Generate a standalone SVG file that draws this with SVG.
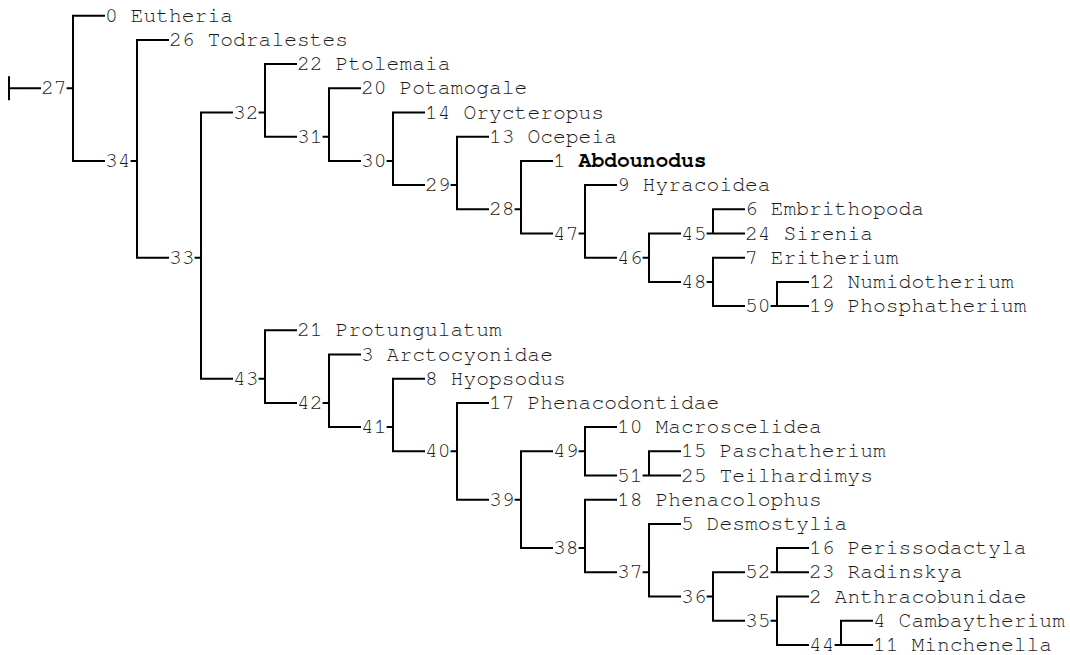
<svg xmlns="http://www.w3.org/2000/svg" width="1070" height="655" viewBox="0 0 1070 655">
  <style>
    .t { font-family: "Nimbus Mono PS", "FreeMono", "Courier New", "Liberation Mono", monospace; font-size: 21.33px; fill: #1a1a1a; }
    .b { font-weight: bold; fill: #000; }
    .c { fill: none; stroke: #000; stroke-width: 2; }
  </style>
  <rect width="1070" height="655" fill="#fff"/>

  <!-- clade brackets: stem tick into the vertical, vertical span, branches out to children -->
  <g id="connectors" class="c">
    <path d="M9 76.3V100.3M9 88.3H41"/>
    <path d="M105 15.7H73V160.9H105M66.6 88.3H73"/>
    <path d="M169 39.9H137V257.7H169M130.6 160.9H137"/>
    <path d="M233 112.5H201V378.7H233M194.6 257.7H201"/>
    <path d="M297 64.1H265V136.7H297M258.6 112.5H265"/>
    <path d="M361 88.3H329V160.9H361M322.6 136.7H329"/>
    <path d="M425 112.5H393V185.1H425M386.6 160.9H393"/>
    <path d="M489 136.7H457V209.3H489M450.6 185.1H457"/>
    <path d="M553 160.9H521V233.5H553M514.6 209.3H521"/>
    <path d="M617 185.1H585V257.7H617M578.6 233.5H585"/>
    <path d="M681 233.5H649V281.9H681M642.6 257.7H649"/>
    <path d="M745 209.3H713V233.5H745M706.6 233.5H713"/>
    <path d="M745 257.7H713V306.1H745M706.6 281.9H713"/>
    <path d="M809 281.9H777V306.1H809M770.6 306.1H777"/>
    <path d="M297 330.3H265V402.9H297M258.6 378.7H265"/>
    <path d="M361 354.5H329V427.1H361M322.6 402.9H329"/>
    <path d="M425 378.7H393V451.3H425M386.6 427.1H393"/>
    <path d="M489 402.9H457V499.7H489M450.6 451.3H457"/>
    <path d="M553 451.3H521V548.1H553M514.6 499.7H521"/>
    <path d="M617 427.1H585V475.5H617M578.6 451.3H585"/>
    <path d="M681 451.3H649V475.5H681M642.6 475.5H649"/>
    <path d="M617 499.7H585V572.3H617M578.6 548.1H585"/>
    <path d="M681 523.9H649V596.5H681M642.6 572.3H649"/>
    <path d="M745 572.3H713V620.7H745M706.6 596.5H713"/>
    <path d="M809 548.1H777V572.3H809M770.6 572.3H777"/>
    <path d="M809 596.5H777V644.9H809M770.6 620.7H777"/>
    <path d="M873 620.7H841V644.9H873M834.6 644.9H841"/>
  </g>

  <!-- internal nodes -->
  <g id="n27"><text class="t" x="41" y="94.3">27</text></g>
  <g id="n34"><text class="t" x="105" y="166.9">34</text></g>
  <g id="n33"><text class="t" x="169" y="263.7">33</text></g>
  <g id="n32"><text class="t" x="233" y="118.5">32</text></g>
  <g id="n31"><text class="t" x="297" y="142.7">31</text></g>
  <g id="n30"><text class="t" x="361" y="166.9">30</text></g>
  <g id="n29"><text class="t" x="425" y="191.1">29</text></g>
  <g id="n28"><text class="t" x="489" y="215.3">28</text></g>
  <g id="n47"><text class="t" x="553" y="239.5">47</text></g>
  <g id="n46"><text class="t" x="617" y="263.7">46</text></g>
  <g id="n45"><text class="t" x="681" y="239.5">45</text></g>
  <g id="n48"><text class="t" x="681" y="287.9">48</text></g>
  <g id="n50"><text class="t" x="745" y="312.1">50</text></g>
  <g id="n43"><text class="t" x="233" y="384.7">43</text></g>
  <g id="n42"><text class="t" x="297" y="408.9">42</text></g>
  <g id="n41"><text class="t" x="361" y="433.1">41</text></g>
  <g id="n40"><text class="t" x="425" y="457.3">40</text></g>
  <g id="n39"><text class="t" x="489" y="505.7">39</text></g>
  <g id="n49"><text class="t" x="553" y="457.3">49</text></g>
  <g id="n51"><text class="t" x="617" y="481.5">51</text></g>
  <g id="n38"><text class="t" x="553" y="554.1">38</text></g>
  <g id="n37"><text class="t" x="617" y="578.3">37</text></g>
  <g id="n36"><text class="t" x="681" y="602.5">36</text></g>
  <g id="n52"><text class="t" x="745" y="578.3">52</text></g>
  <g id="n35"><text class="t" x="745" y="626.7">35</text></g>
  <g id="n44"><text class="t" x="809" y="650.9">44</text></g>

  <!-- terminal taxa -->
  <g id="t0"><text class="t" x="105" y="21.7">0 Eutheria</text></g>
  <g id="t26"><text class="t" x="169" y="45.9">26 Todralestes</text></g>
  <g id="t22"><text class="t" x="297" y="70.1">22 Ptolemaia</text></g>
  <g id="t20"><text class="t" x="361" y="94.3">20 Potamogale</text></g>
  <g id="t14"><text class="t" x="425" y="118.5">14 Orycteropus</text></g>
  <g id="t13"><text class="t" x="489" y="142.7">13 Ocepeia</text></g>
  <g id="t1"><text class="t" x="553" y="166.9">1 <tspan class="b">Abdounodus</tspan></text></g>
  <g id="t9"><text class="t" x="617" y="191.1">9 Hyracoidea</text></g>
  <g id="t6"><text class="t" x="745" y="215.3">6 Embrithopoda</text></g>
  <g id="t24"><text class="t" x="745" y="239.5">24 Sirenia</text></g>
  <g id="t7"><text class="t" x="745" y="263.7">7 Eritherium</text></g>
  <g id="t12"><text class="t" x="809" y="287.9">12 Numidotherium</text></g>
  <g id="t19"><text class="t" x="809" y="312.1">19 Phosphatherium</text></g>
  <g id="t21"><text class="t" x="297" y="336.3">21 Protungulatum</text></g>
  <g id="t3"><text class="t" x="361" y="360.5">3 Arctocyonidae</text></g>
  <g id="t8"><text class="t" x="425" y="384.7">8 Hyopsodus</text></g>
  <g id="t17"><text class="t" x="489" y="408.9">17 Phenacodontidae</text></g>
  <g id="t10"><text class="t" x="617" y="433.1">10 Macroscelidea</text></g>
  <g id="t15"><text class="t" x="681" y="457.3">15 Paschatherium</text></g>
  <g id="t25"><text class="t" x="681" y="481.5">25 Teilhardimys</text></g>
  <g id="t18"><text class="t" x="617" y="505.7">18 Phenacolophus</text></g>
  <g id="t5"><text class="t" x="681" y="529.9">5 Desmostylia</text></g>
  <g id="t16"><text class="t" x="809" y="554.1">16 Perissodactyla</text></g>
  <g id="t23"><text class="t" x="809" y="578.3">23 Radinskya</text></g>
  <g id="t2"><text class="t" x="809" y="602.5">2 Anthracobunidae</text></g>
  <g id="t4"><text class="t" x="873" y="626.7">4 Cambaytherium</text></g>
  <g id="t11"><text class="t" x="873" y="650.9">11 Minchenella</text></g>
</svg>
